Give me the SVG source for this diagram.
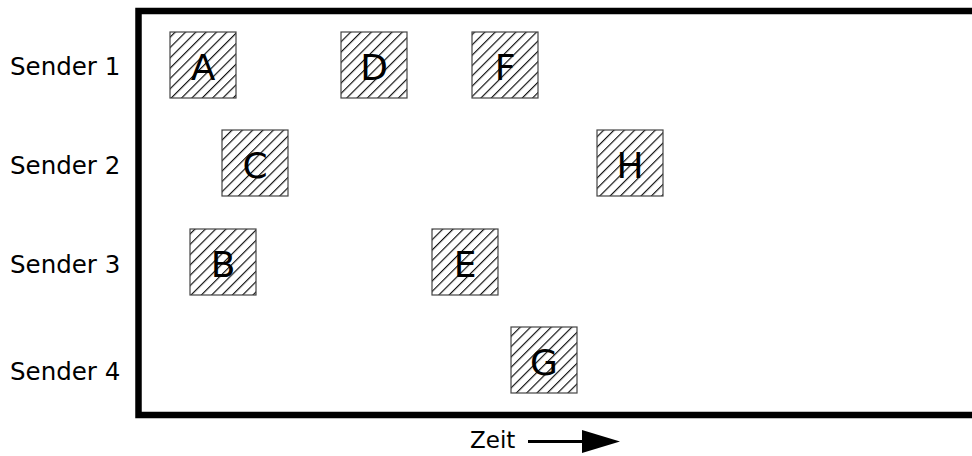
<svg xmlns="http://www.w3.org/2000/svg" width="972" height="456" viewBox="0 0 972 456">
<style>
.lbl{font-family:"DejaVu Sans",Verdana,sans-serif;font-size:24.5px;fill:#000}
.box{fill:url(#hatch);stroke:#444;stroke-width:1.2}
.let{font-family:"DejaVu Sans",Verdana,sans-serif;font-size:36px;fill:#000;text-anchor:middle}
</style>
<defs>
<pattern id="hatch" patternUnits="userSpaceOnUse" width="7.3" height="7.3" patternTransform="rotate(45)">
<rect width="7.3" height="7.3" fill="#fff"/>
<line x1="0.6" y1="0" x2="0.6" y2="7.3" stroke="#000" stroke-width="1.1"/>
</pattern>
</defs>
<rect width="972" height="456" fill="#fff"/>
<g id="frame">
<path d="M975 11 H138.5 V415 H975" fill="none" stroke="#000" stroke-width="6.5"/>
</g>
<g id="labels">
<text class="lbl" x="10" y="75">Sender 1</text>
<text class="lbl" x="10" y="174">Sender 2</text>
<text class="lbl" x="10" y="273">Sender 3</text>
<text class="lbl" x="10" y="380">Sender 4</text>
</g>
<g id="A"><rect class="box" x="170" y="32" width="66" height="66"/><text class="let" x="203" y="80">A</text></g>
<g id="D"><rect class="box" x="341" y="32" width="66" height="66"/><text class="let" x="374" y="80">D</text></g>
<g id="F"><rect class="box" x="472" y="32" width="66" height="66"/><text class="let" x="505" y="80">F</text></g>
<g id="C"><rect class="box" x="222" y="130" width="66" height="66"/><text class="let" x="255" y="178">C</text></g>
<g id="H"><rect class="box" x="597" y="130" width="66" height="66"/><text class="let" x="630" y="178">H</text></g>
<g id="B"><rect class="box" x="190" y="229" width="66" height="66"/><text class="let" x="223" y="277">B</text></g>
<g id="E"><rect class="box" x="432" y="229" width="66" height="66"/><text class="let" x="465" y="277">E</text></g>
<g id="G"><rect class="box" x="511" y="327" width="66" height="66"/><text class="let" x="544" y="375">G</text></g>
<g id="connectors">
<text class="lbl" x="470" y="448" style="font-size:23px">Zeit</text>
<line x1="528" y1="441.5" x2="586" y2="441.5" stroke="#000" stroke-width="3"/>
<polygon points="582,430 620,441.5 582,453" fill="#000"/>
</g>
</svg>
